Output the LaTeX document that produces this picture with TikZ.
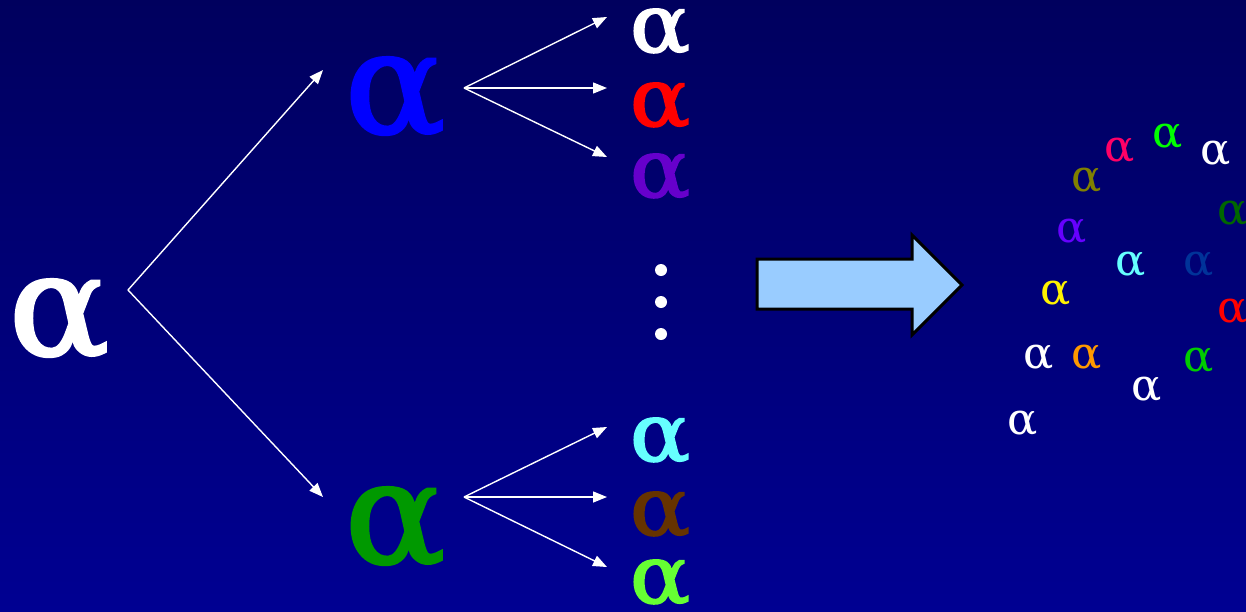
\documentclass[tikz,border=0pt]{standalone}
\usepackage{fontspec}
\setmainfont{DejaVu Serif}
\newfontfamily\heavyserif{DejaVu Serif}[FakeBold=2]
\usetikzlibrary{arrows.meta}
\definecolor{bgtop}{HTML}{00005E}
\definecolor{bgbot}{HTML}{000092}
\definecolor{apurple}{HTML}{6600CC}
\definecolor{acyan}{HTML}{66FFFF}
\definecolor{abrown}{HTML}{663300}
\definecolor{alime}{HTML}{66FF33}
\definecolor{agreen}{HTML}{009900}
\definecolor{ablue}{HTML}{0000FF}
\definecolor{spink}{HTML}{FF0066}
\definecolor{solive}{HTML}{808000}
\definecolor{sdkgreen}{HTML}{006600}
\definecolor{sviolet}{HTML}{6600FF}
\definecolor{snavy}{HTML}{003399}
\definecolor{sorange}{HTML}{FF9900}
\definecolor{sgreen}{HTML}{00CC00}
\definecolor{arrowfill}{HTML}{99CCFF}
% letters of three sizes, widened a little
\newcommand{\bigA}{\scalebox{1.05}[1]{α}}
\newcommand{\midA}{\scalebox{1.1}[1]{α}}
\newcommand{\smallA}{\scalebox{1.02}[1]{α}}
\tikzset{
  letterbox/.style={inner sep=0pt, anchor=base, text height=0.57em, text depth=0.02em},
  bigalpha/.style={letterbox, font=\fontsize{142}{142}\heavyserif},
  midalpha/.style={letterbox, font=\fontsize{81}{81}\heavyserif},
  smallalpha/.style={letterbox, font=\fontsize{44}{44}\selectfont},
  branch/.style={draw=white, line width=1.4pt, -{Triangle[length=14pt,width=11pt]}},
  dot/.style={circle, fill=white, inner sep=0pt, minimum size=12pt},
}
\begin{document}
\begin{tikzpicture}[x=1pt,y=-1pt]
  % background
  \shade[top color=bgtop, bottom color=bgbot] (0,0) rectangle (1246,611);
  \useasboundingbox (0,0) rectangle (1246,611);

  % root and the two first-level letters
  \node[bigalpha, text=white] (root) at (59,355) {\bigA};
  \node[bigalpha, text=ablue] (up) at (395,133) {\bigA};
  \node[bigalpha, text=agreen] (down) at (395,563) {\bigA};

  % second-level letters
  \node[midalpha, text=white]   (u1) at (660,52)  {\midA};
  \node[midalpha, text=red]     (u2) at (660,126) {\midA};
  \node[midalpha, text=apurple] (u3) at (660,197) {\midA};
  \node[midalpha, text=acyan]   (d1) at (660,461) {\midA};
  \node[midalpha, text=abrown]  (d2) at (660,535) {\midA};
  \node[midalpha, text=alime]   (d3) at (660,603) {\midA};

  % vertical ellipsis
  \node[dot] (e1) at (661,270) {};
  \node[dot] (e2) at (661,302) {};
  \node[dot] (e3) at (661,334) {};

  % branch end points
  \coordinate (root-out) at (128,290);
  \coordinate (up-in) at (323,70);
  \coordinate (down-in) at (323,497);
  \coordinate (up-out) at (464,88);
  \coordinate (down-out) at (464,497);
  \coordinate (u1-in) at (607,17);
  \coordinate (u2-in) at (607,88);
  \coordinate (u3-in) at (607,157);
  \coordinate (d1-in) at (607,427);
  \coordinate (d2-in) at (607,497);
  \coordinate (d3-in) at (607,567);

  \draw[branch] (root-out) -- (up-in);
  \draw[branch] (root-out) -- (down-in);
  \draw[branch] (up-out) -- (u1-in);
  \draw[branch] (up-out) -- (u2-in);
  \draw[branch] (up-out) -- (u3-in);
  \draw[branch] (down-out) -- (d1-in);
  \draw[branch] (down-out) -- (d2-in);
  \draw[branch] (down-out) -- (d3-in);

  % block arrow
  \draw[fill=arrowfill, draw=black, line width=3pt, line join=miter]
    (757,259) -- (912,259) -- (912,235) -- (962,285) -- (912,335)
    -- (912,309) -- (757,309) -- cycle;

  % scattered letters
  \node[smallalpha, text=spink]    (s1)  at (1120,161) {\smallA};
  \node[smallalpha, text=green]    (s2)  at (1168,147) {\smallA};
  \node[smallalpha, text=white]    (s3)  at (1216,164) {\smallA};
  \node[smallalpha, text=solive]   (s4)  at (1087,191) {\smallA};
  \node[smallalpha, text=sdkgreen] (s5)  at (1233,224) {\smallA};
  \node[smallalpha, text=sviolet]  (s6)  at (1072,242) {\smallA};
  \node[smallalpha, text=acyan]    (s7)  at (1131,275) {\smallA};
  \node[smallalpha, text=snavy]    (s8)  at (1199,275) {\smallA};
  \node[smallalpha, text=yellow]   (s9)  at (1056,304) {\smallA};
  \node[smallalpha, text=red]      (s10) at (1233,322) {\smallA};
  \node[smallalpha, text=white]    (s11) at (1039,368) {\smallA};
  \node[smallalpha, text=sorange]  (s12) at (1087,368) {\smallA};
  \node[smallalpha, text=sgreen]   (s13) at (1199,371) {\smallA};
  \node[smallalpha, text=white]    (s14) at (1147,400) {\smallA};
  \node[smallalpha, text=white]    (s15) at (1023,434) {\smallA};
\end{tikzpicture}
\end{document}
